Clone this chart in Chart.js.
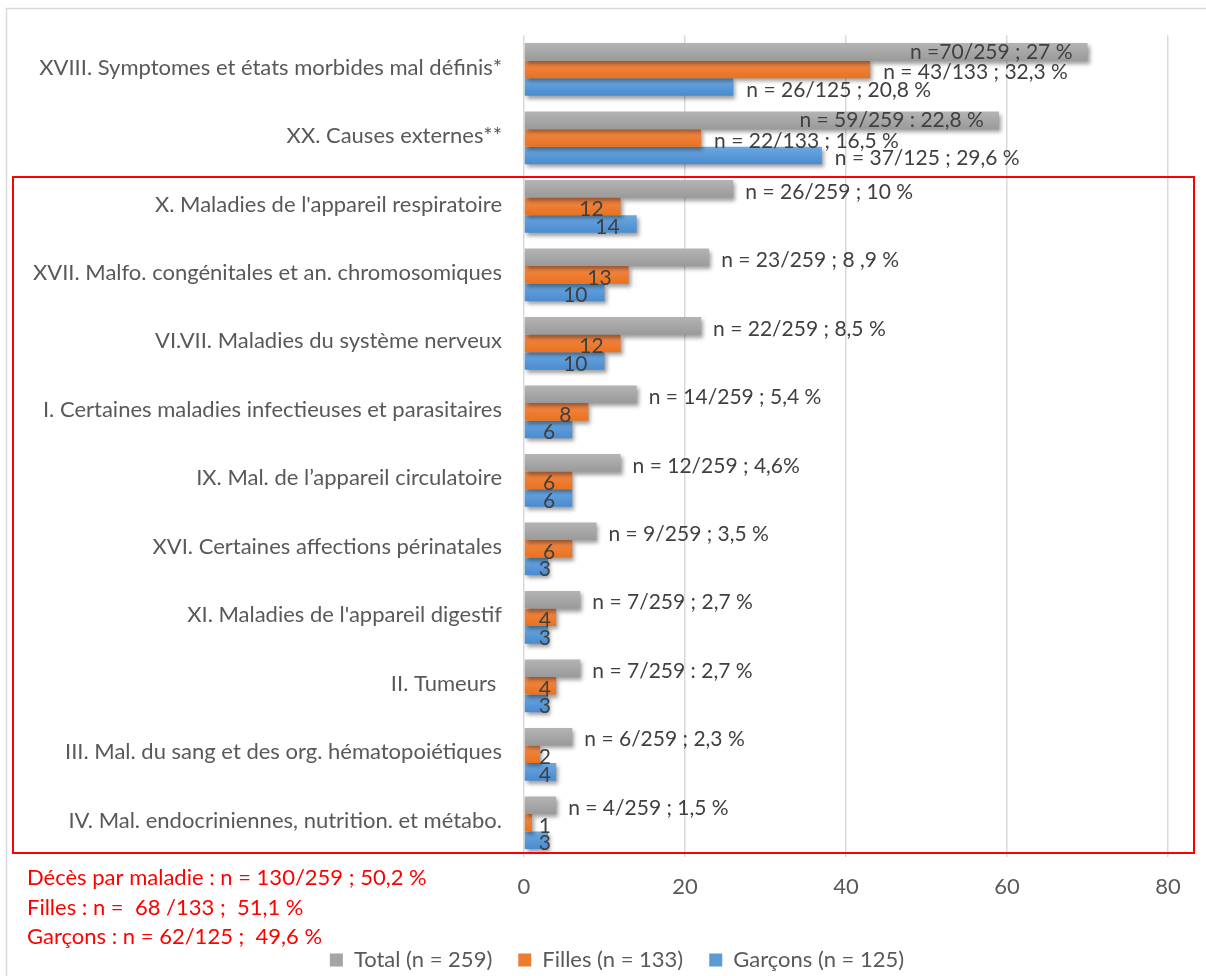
<!DOCTYPE html>
<html>
<head>
<meta charset="utf-8">
<script src="https://cdn.jsdelivr.net/npm/chart.js@4.4.1/dist/chart.umd.min.js"></script>
<style>
html,body{margin:0;padding:0;background:#fff;}
#wrap{width:1206px;height:976px;position:relative;}
canvas{display:block;}
</style>
</head>
<body>
<div id="wrap"><canvas id="c" width="1206" height="976"></canvas></div>
<script>
// ---------- DATA ----------
const categories = [
  "XVIII. Symptomes et états morbides mal définis*",
  "XX. Causes externes**",
  "X. Maladies de l'appareil respiratoire",
  "XVII. Malfo. congénitales et an. chromosomiques",
  "VI.VII. Maladies du système nerveux",
  "I. Certaines maladies infectieuses et parasitaires",
  "IX. Mal. de l\u2019appareil circulatoire",
  "XVI. Certaines affections périnatales",
  "XI. Maladies de l'appareil digestif",
  "II. Tumeurs ",
  "III. Mal. du sang et des org. hématopoiétiques",
  "IV. Mal. endocriniennes, nutrition. et métabo."
];
const seriesNames = ["Total (n = 259)", "Filles (n = 133)", "Garçons (n = 125)"];
const totalValues   = [70, 59, 26, 23, 22, 14, 12, 9, 7, 7, 6, 4];
const fillesValues  = [43, 22, 12, 13, 12, 8, 6, 6, 4, 4, 2, 1];
const garconsValues = [26, 37, 14, 10, 10, 6, 6, 3, 3, 3, 4, 3];
const totalLabels = [
  "n =70/259 ; 27 %", "n = 59/259 : 22,8 %", "n = 26/259 ; 10 %", "n = 23/259 ; 8 ,9 %",
  "n = 22/259 ; 8,5 %", "n = 14/259 ; 5,4 %", "n = 12/259 ; 4,6%", "n = 9/259 ; 3,5 %",
  "n = 7/259 ; 2,7 %", "n = 7/259 : 2,7 %", "n = 6/259 ; 2,3 %", "n = 4/259 ; 1,5 %"
];
const fillesLabels = ["n = 43/133 ; 32,3 %", "n = 22/133 ; 16,5 %", "12", "13", "12", "8", "6", "6", "4", "4", "2", "1"];
const garconsLabels = ["n = 26/125 ; 20,8 %", "n = 37/125 ; 29,6 %", "14", "10", "10", "6", "6", "3", "3", "3", "4", "3"];
const xTicks = [0, 20, 40, 60, 80];
const noteLines = [
  "Décès par maladie : n = 130/259 ; 50,2 %",
  "Filles : n =  68 /133 ;  51,1 %",
  "Garçons : n = 62/125 ;  49,6 %"
];

// ---------- STYLE ----------
const FONT = "Lato, 'Open Sans', sans-serif";
const FS = 22;
const FS_LBL = 21;
const baseColors = ["#A5A5A5", "#ED7D31", "#5B9BD5"];
const gradColors = [
  ["#B4B4B4", "#9A9A9A"],
  ["#F3894A", "#E8721F"],
  ["#6BA8E0", "#4A8BD0"]
];

const decoPlugin = {
  id: 'deco',
  afterLayout(chart) {
    // centre the legend row like the original (offset to the right)
    if (chart.legend) { chart.legend.left = 66; }
  },
  beforeDraw(chart) {
    const ctx = chart.ctx;
    ctx.save();
    ctx.fillStyle = '#fff';
    ctx.fillRect(0, 0, chart.width, chart.height);
    ctx.strokeStyle = '#D9D9D9';
    ctx.lineWidth = 1.5;
    ctx.beginPath();
    ctx.moveTo(6.5, chart.height);
    ctx.lineTo(6.5, 8.5);
    ctx.lineTo(chart.width, 8.5);
    ctx.stroke();
    ctx.restore();
  },
  beforeDatasetsDraw(chart) {
    const ctx = chart.ctx;
    ctx.save();
    ctx.shadowColor = 'rgba(0,0,0,0.38)';
    ctx.shadowBlur = 4;
    ctx.shadowOffsetX = 2;
    ctx.shadowOffsetY = 3;
  },
  beforeDatasetDraw(chart, args) {
    const ctx = chart.ctx;
    const di = args.index;
    args.meta.data.forEach(el => {
      const p = el.getProps(['y', 'height'], true);
      const top = p.y - p.height / 2;
      const g = ctx.createLinearGradient(0, top, 0, top + p.height);
      g.addColorStop(0, gradColors[di][0]);
      g.addColorStop(1, gradColors[di][1]);
      el.options = Object.assign({}, el.options, { backgroundColor: g });
    });
  },
  afterDatasetsDraw(chart) {
    const ctx = chart.ctx;
    ctx.restore();
    const xs = chart.scales.x;
    const zero = xs.getPixelForValue(0);
    const sets = [totalLabels, fillesLabels, garconsLabels];
    ctx.save();
    ctx.font = FS_LBL + 'px ' + FONT;
    ctx.fillStyle = '#404040';
    ctx.textBaseline = 'middle';
    chart.data.datasets.forEach((ds, di) => {
      const meta = chart.getDatasetMeta(di);
      meta.data.forEach((el, i) => {
        const txt = sets[di][i];
        const end = el.x, yc = el.y;
        if (di === 0) {
          if (i < 2) { ctx.textAlign = 'right'; ctx.fillText(txt, end - 15, yc); }
          else { ctx.textAlign = 'left'; ctx.fillText(txt, end + 12, yc + 3); }
        } else {
          if (i < 2) { ctx.textAlign = 'left'; ctx.fillText(txt, end + 13, yc + 3); }
          else { ctx.textAlign = 'right'; ctx.fillText(txt, Math.max(end - 17, zero + 27), yc + 3); }
        }
      });
    });
    ctx.restore();
  },
  afterDraw(chart) {
    const ctx = chart.ctx;
    ctx.save();
    ctx.strokeStyle = '#FF0000';
    ctx.lineWidth = 2;
    ctx.strokeRect(13, 177, 1181, 676);
    ctx.fillStyle = '#FF0000';
    ctx.font = FS + 'px ' + FONT;
    ctx.textAlign = 'left';
    ctx.textBaseline = 'middle';
    noteLines.forEach((t, k) => ctx.fillText(t, 27, 878 + k * 29.5));
    ctx.restore();
  }
};

new Chart(document.getElementById('c'), {
  type: 'bar',
  data: {
    labels: categories,
    datasets: [
      { label: seriesNames[0], data: totalValues, backgroundColor: baseColors[0] },
      { label: seriesNames[1], data: fillesValues, backgroundColor: baseColors[1] },
      { label: seriesNames[2], data: garconsValues, backgroundColor: baseColors[2] }
    ]
  },
  options: {
    indexAxis: 'y',
    responsive: false,
    animation: false,
    devicePixelRatio: 1,
    datasets: { bar: { categoryPercentage: 0.77, barPercentage: 1.0 } },
    layout: { padding: { top: 32, right: 38, left: 22, bottom: -5 } },
    scales: {
      x: {
        min: 0, max: 80,
        afterBuildTicks(scale) { scale.ticks = xTicks.map(v => ({ value: v })); },
        afterFit(scale) { scale.height = 66; },
        grid: { color: '#D9D9D9', lineWidth: 1.5, drawTicks: false },
        border: { display: false },
        ticks: { color: '#595959', font: { family: FONT, size: FS }, padding: 17 }
      },
      y: {
        afterFit(scale) { scale.width = 502; },
        grid: { display: false, drawTicks: false },
        border: { display: false },
        ticks: { color: '#595959', font: { family: FONT, size: FS }, padding: 22, autoSkip: false, labelOffset: -2 }
      }
    },
    plugins: {
      legend: {
        position: 'bottom',
        labels: {
          color: '#595959',
          font: { family: FONT, size: FS },
          boxWidth: 13, boxHeight: 13,
          padding: 26
        }
      },
      tooltip: { enabled: false }
    }
  },
  plugins: [decoPlugin]
});
</script>
</body>
</html>
